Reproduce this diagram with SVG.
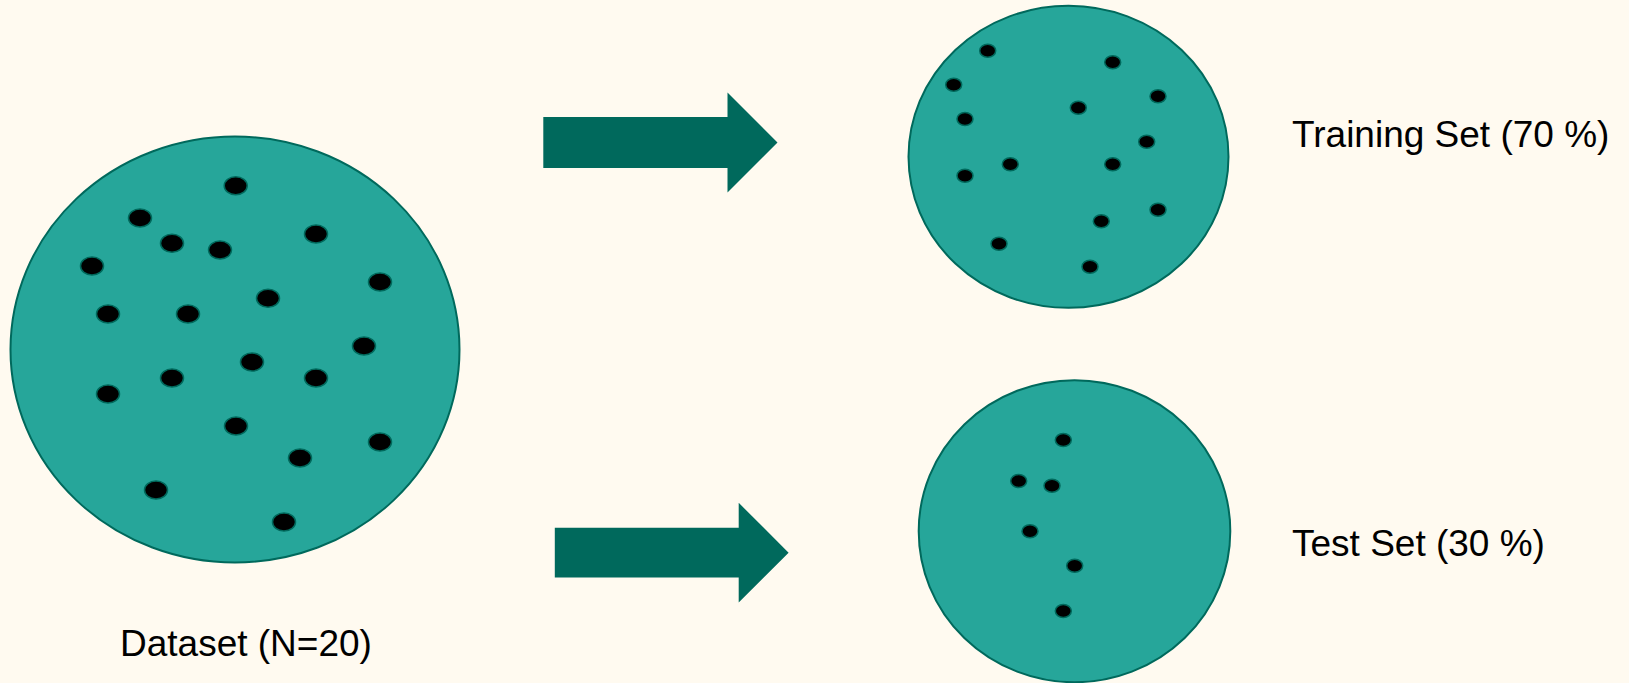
<svg xmlns="http://www.w3.org/2000/svg" width="1629" height="683" viewBox="0 0 1629 683">
<style>
.set{fill:#26A69A;stroke:#00695C;stroke-width:2}
.d{fill:#000;stroke:#00695C;stroke-width:1.5}
.arrow{fill:#00695C}
.lbl{font-family:"Liberation Sans",Arial,sans-serif;font-size:37px;fill:#000}
</style>
<rect width="1629" height="683" fill="#FFFAF0"/>
<g id="dataset">
<ellipse class="set" cx="235" cy="349.5" rx="224.5" ry="213"/>
<g>
<ellipse class="d" cx="235.7" cy="185.7" rx="11.5" ry="9"/>
<ellipse class="d" cx="140" cy="218" rx="11.5" ry="9"/>
<ellipse class="d" cx="172" cy="243.3" rx="11.5" ry="9"/>
<ellipse class="d" cx="220" cy="250" rx="11.5" ry="9"/>
<ellipse class="d" cx="316" cy="234" rx="11.5" ry="9"/>
<ellipse class="d" cx="92" cy="266" rx="11.5" ry="9"/>
<ellipse class="d" cx="380" cy="282" rx="11.5" ry="9"/>
<ellipse class="d" cx="108" cy="314" rx="11.5" ry="9"/>
<ellipse class="d" cx="188" cy="314" rx="11.5" ry="9"/>
<ellipse class="d" cx="268" cy="298.3" rx="11.5" ry="9"/>
<ellipse class="d" cx="364" cy="346" rx="11.5" ry="9"/>
<ellipse class="d" cx="108" cy="394" rx="11.5" ry="9"/>
<ellipse class="d" cx="172" cy="378" rx="11.5" ry="9"/>
<ellipse class="d" cx="252" cy="362" rx="11.5" ry="9"/>
<ellipse class="d" cx="316" cy="378" rx="11.5" ry="9"/>
<ellipse class="d" cx="236" cy="426" rx="11.5" ry="9"/>
<ellipse class="d" cx="300" cy="458" rx="11.5" ry="9"/>
<ellipse class="d" cx="380" cy="442" rx="11.5" ry="9"/>
<ellipse class="d" cx="156" cy="490" rx="11.5" ry="9"/>
<ellipse class="d" cx="284" cy="522" rx="11.5" ry="9"/>
</g>
<text class="lbl" x="120" y="656">Dataset (N=20)</text>
</g>
<g id="training">
<ellipse class="set" cx="1068.5" cy="156.8" rx="160" ry="151"/>
<g>
<ellipse class="d" cx="987.7" cy="50.7" rx="8" ry="6.5"/>
<ellipse class="d" cx="1112.7" cy="62.3" rx="8" ry="6.5"/>
<ellipse class="d" cx="953.7" cy="84.7" rx="8" ry="6.5"/>
<ellipse class="d" cx="1158" cy="96.3" rx="8" ry="6.5"/>
<ellipse class="d" cx="1078.3" cy="107.7" rx="8" ry="6.5"/>
<ellipse class="d" cx="965" cy="119" rx="8" ry="6.5"/>
<ellipse class="d" cx="1146.7" cy="141.7" rx="8" ry="6.5"/>
<ellipse class="d" cx="1010.3" cy="164.3" rx="8" ry="6.5"/>
<ellipse class="d" cx="1112.7" cy="164.3" rx="8" ry="6.5"/>
<ellipse class="d" cx="965" cy="175.7" rx="8" ry="6.5"/>
<ellipse class="d" cx="1158" cy="209.7" rx="8" ry="6.5"/>
<ellipse class="d" cx="1101.3" cy="221.3" rx="8" ry="6.5"/>
<ellipse class="d" cx="999" cy="243.7" rx="8" ry="6.5"/>
<ellipse class="d" cx="1090" cy="266.7" rx="8" ry="6.5"/>
</g>
<text class="lbl" x="1292" y="147">Training Set (70 %)</text>
</g>
<g id="test">
<ellipse class="set" cx="1074.5" cy="531.2" rx="155.8" ry="151"/>
<g>
<ellipse class="d" cx="1063.3" cy="440" rx="8" ry="6.5"/>
<ellipse class="d" cx="1018.7" cy="481" rx="8" ry="6.5"/>
<ellipse class="d" cx="1052" cy="485.7" rx="8" ry="6.5"/>
<ellipse class="d" cx="1030" cy="531.3" rx="8" ry="6.5"/>
<ellipse class="d" cx="1074.7" cy="565.7" rx="8" ry="6.5"/>
<ellipse class="d" cx="1063.3" cy="611" rx="8" ry="6.5"/>
</g>
<text class="lbl" x="1292" y="556">Test Set (30 %)</text>
</g>
<g id="connectors">
<polygon class="arrow" points="543.3,117 727.5,117 727.5,92.5 777.5,142.5 727.5,192.5 727.5,168 543.3,168"/>
<polygon class="arrow" points="554.8,527.8 738.7,527.8 738.7,502.8 788.6,552.7 738.7,602.6 738.7,577.6 554.8,577.6"/>
</g>
</svg>
